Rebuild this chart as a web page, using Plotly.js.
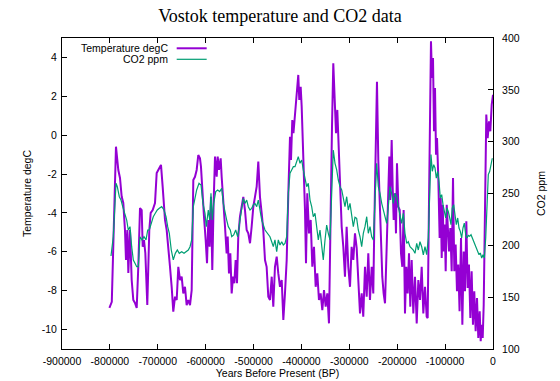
<!DOCTYPE html>
<html><head><meta charset="utf-8">
<script src="https://cdn.plot.ly/plotly-3.0.1.min.js"></script>
<style>html,body{margin:0;padding:0;background:#fff}#chart{width:560px;height:381px}</style>
</head><body><div id="chart"></div>
<script>
// Temperature (degC) vs years before present
const tempYears = [-801000,-796000,-787300,-782400,-778900,-775400,-772000,-768500,-766400,-763600,-761500,-758000,-754500,-751100,-747600,-744000,-740700,-737100,-733600,-731500,-728800,-726000,-721900,-717700,-714800,-710600,-705800,-702300,-698900,-695400,-693300,-689800,-684900,-681400,-678000,-674500,-671000,-667600,-664000,-660500,-657100,-653600,-650100,-646700,-643200,-639700,-636200,-632700,-629200,-625800,-622300,-618800,-615400,-611900,-609800,-607000,-603500,-600000,-597200,-594500,-591700,-588900,-586200,-583400,-580500,-577000,-574900,-572200,-568700,-566600,-563200,-559600,-556200,-554000,-551300,-548500,-545700,-542900,-540200,-537400,-534600,-531900,-528400,-524900,-521400,-517900,-514400,-511000,-507400,-504000,-500500,-497000,-493500,-490100,-486600,-483000,-479700,-476100,-472700,-469200,-465700,-462100,-458800,-455300,-451700,-448300,-444800,-441200,-437800,-434400,-430800,-427400,-423900,-421800,-419100,-416700,-413500,-409900,-406600,-404500,-401600,-399500,-396200,-392600,-390500,-387800,-384200,-380700,-377300,-373800,-370300,-366900,-363400,-359900,-356400,-352900,-349400,-346000,-342500,-339800,-336200,-333500,-330600,-327800,-325100,-322200,-319500,-316000,-312600,-309100,-305600,-302200,-298600,-295200,-291700,-288200,-284700,-281300,-277700,-274200,-270900,-267300,-263800,-260400,-256900,-253300,-250000,-247900,-245000,-242300,-239500,-236600,-233900,-231200,-228400,-225500,-222800,-220700,-218600,-216500,-214500,-211600,-209500,-207400,-204700,-202600,-200500,-197600,-194800,-192100,-189400,-186600,-183800,-181000,-178200,-175400,-172700,-169800,-166400,-162900,-159300,-155900,-152400,-148900,-145500,-142000,-138500,-136400,-133700,-131600,-129500,-127400,-125300,-123200,-121100,-119000,-116900,-114200,-111400,-109200,-107100,-105000,-102900,-100800,-98800,-96600,-94500,-91900,-89100,-86300,-83500,-80800,-78000,-75200,-72500,-69800,-66800,-64000,-61200,-58500,-55700,-52900,-50200,-47300,-44600,-41800,-39100,-36200,-33400,-30700,-27800,-25700,-23600,-21500,-19400,-16700,-14000,-11100,-8300,-5600,-2700,0];
const tempValues = [-8.88,-8.57,-0.59,-1.79,-2.2,-3.16,-3.49,-4.88,-6.42,-4.88,-7.09,-4.88,-7.45,-8.48,-8.63,-8.89,-6.77,-3.75,-3.85,-5.74,-5.4,-6.06,-8.74,-4.88,-4.0,-3.85,-3.49,-1.95,-1.79,-1.62,-1.53,-2.65,-4.36,-4.88,-6.06,-6.77,-7.8,-9.08,-8.31,-8.48,-6.77,-7.45,-7.28,-8.14,-7.8,-8.74,-8.48,-8.74,-7.97,-2.31,-2.14,-1.79,-1.02,-1.19,-1.62,-2.99,-4.19,-5.39,-6.59,-4.36,-5.74,-3.17,-6.94,-3.5,-1.1,-2.14,-1.1,-1.79,-1.19,-2.14,-3.17,-4.71,-6.08,-5.22,-7.11,-6.08,-8.14,-7.28,-7.62,-6.42,-7.62,-5.22,-4.19,-3.68,-3.17,-3.85,-4.88,-5.05,-5.56,-4.71,-3.68,-3.17,-2.65,-1.36,-3.17,-4.02,-4.88,-6.42,-6.77,-8.31,-8.48,-7.28,-8.82,-6.77,-6.25,-7.11,-7.8,-7.45,-9.51,-8.14,-6.42,-2.99,-0.08,-1.28,0.78,0.1,0.95,1.98,3.1,1.81,2.49,1.47,-0.93,-3.85,-6.59,-2.99,-5.05,-4.36,-6.77,-5.74,-7.8,-7.11,-8.48,-8.14,-9.0,-7.97,-8.82,-8.14,-9.68,-4.71,0.44,3.7,1.3,0.1,1.3,-0.93,-2.99,-4.71,-5.74,-7.28,-4.71,-6.77,-7.8,-5.74,-6.42,-5.05,-5.8,-7.28,-9.17,-8.14,-9.34,-6.77,-8.31,-6.08,-8.48,-6.77,-8.14,-4.71,-1.28,2.75,-1.28,-3.33,-5.56,-7.28,-8.14,-8.65,-6.42,-4.36,-2.65,-1.1,-3.33,-0.25,-2.65,-4.36,-2.99,-5.05,-1.45,-3.68,-3.85,-6.08,-6.77,-3.85,-9.17,-6.77,-8.14,-6.08,-8.82,-6.42,-9.17,-7.28,-9.68,-7.45,-8.48,-6.77,-9.17,-7.8,-9.34,-9.41,-3.58,1.57,4.83,2.94,3.97,0.2,2.43,-1.0,-0.15,-2.2,-5.29,-3.23,-6.32,-3.58,-5.98,-4.6,-7.0,-3.58,-4.6,-5.98,-4.78,-7.0,-2.2,-7.0,-5.63,-8.03,-6.66,-9.06,-5.29,-9.75,-5.98,-8.03,-4.43,-7.86,-6.66,-9.41,-7.0,-9.75,-8.03,-10.09,-8.38,-10.43,-9.06,-10.6,-9.75,-10.43,-8.72,-3.58,1.06,-0.15,0.71,0.2,1.57,2.08];

// CO2 (ppm) vs years before present
const co2Years = [-797700,-792900,-787200,-784500,-780300,-776800,-773200,-769100,-764900,-761600,-758000,-754500,-751100,-747600,-744000,-740700,-737100,-733000,-728800,-724600,-721000,-717700,-714200,-709400,-705200,-701000,-696800,-691800,-687000,-682800,-679300,-675900,-671800,-667600,-663400,-659200,-655100,-650000,-645200,-641100,-636300,-632700,-629200,-625800,-622300,-618800,-613900,-609700,-605600,-601400,-598700,-594500,-591600,-588900,-586200,-583200,-579000,-574900,-570700,-566500,-563200,-559600,-556100,-552700,-548600,-545600,-541500,-537300,-533100,-528300,-524800,-521400,-517900,-514300,-511000,-507400,-503900,-500500,-497000,-493400,-490100,-486500,-483000,-476100,-470500,-465700,-462100,-458800,-455300,-451700,-448300,-444800,-441200,-437900,-434400,-430800,-427400,-423900,-420400,-416900,-413500,-409900,-406600,-403000,-399500,-396100,-392600,-389000,-385700,-382100,-378600,-375300,-371700,-368200,-364800,-361300,-357700,-354400,-350800,-347300,-343900,-340400,-336800,-333500,-329900,-326400,-323000,-319500,-315900,-312600,-309100,-305500,-302200,-298600,-295100,-291700,-288200,-284700,-281300,-277700,-274200,-270800,-267300,-263700,-260400,-256800,-253300,-249900,-246400,-242900,-239500,-236000,-232400,-229100,-225500,-222000,-218600,-215100,-211600,-208200,-204600,-201100,-197800,-194200,-190700,-187300,-183800,-180200,-176900,-173300,-169800,-166400,-162900,-159300,-156000,-152500,-148900,-145500,-142000,-138500,-135100,-132200,-129500,-126700,-123800,-121100,-118400,-115500,-112800,-110000,-107100,-104400,-101700,-98800,-96100,-93400,-90400,-87700,-85000,-82100,-79400,-76600,-73700,-71000,-68300,-65400,-62700,-59900,-57000,-54300,-51600,-48700,-45900,-43200,-40300,-37600,-34900,-31900,-29200,-26500,-23600,-20900,-18200,-15200,-12500,-9800,-6900,-4200,-1500];
const co2Values = [189.7,208.3,259.8,256.6,246.9,243.7,237.3,230.9,224.4,214.8,218,198.7,185.9,182.7,179.4,179.4,208.3,205.2,208.3,205.2,214.8,214.8,221.2,227.6,230.9,234.1,235.7,237.3,234.1,227.6,218,211.6,195.5,185.9,192.3,195.5,192.3,193.9,192.3,193.9,195.5,198.7,205.2,237.3,246.9,253.4,259.8,258.2,240.5,230.9,218,234.1,224.4,250.2,224.4,240.5,251.8,253.4,251.8,255,240.5,230.9,224.4,218,214.8,208.3,210,214.8,208.3,224.4,234.1,245.3,240.5,243.7,237.3,234.1,235.7,239,240.5,237.3,243.7,234.1,224.4,214.8,211.6,208.3,203.5,198.7,205.2,193.9,205.2,200.3,203.5,200.3,201.9,208.3,250.2,269.5,272.7,275.9,275.9,280.7,285.5,279.1,282.3,272.7,263,256.6,259.8,243.7,237.3,227.6,230.9,214.8,205.2,214.8,195.5,185.9,205.2,219.6,211.6,205.2,250.2,292,279.1,272.7,263,256.6,253.4,243.7,237.3,246.9,234.1,240.5,230.9,218,227,226,214.8,208.3,198.7,211.6,218,227.6,211.6,218,208.3,205.2,243.7,279.1,256.6,250.2,240.5,234.1,227.6,221.2,237.3,256.6,250.2,240.5,250.2,246.9,237.3,227.6,221.2,230.9,211.6,201.9,203.5,198.7,197.1,195.5,192.3,201.9,195.5,203.5,198.7,190.7,198.7,191,207.1,264.9,287.5,271.4,277.8,274.6,264.9,271.4,261.7,245.7,248.9,239.2,232.8,226.4,236,232.8,226.4,219.9,236,239.2,229.6,219.9,226.4,216.7,213.5,207.1,216.7,221.5,210.3,207.1,209.6,208.7,210.3,207.1,203.9,202.3,197.4,194.2,191,192.6,187.8,191,187.8,207.1,245.7,268.2,271.4,277.8,284];

const xTickVals = [-900000,-800000,-700000,-600000,-500000,-400000,-300000,-200000,-100000,0];
const xTickText = ['-900000','-800000','-700000','-600000','-500000','-400000','-300000','-200000','-100000','0'];
const yTickVals = [-10,-8,-6,-4,-2,0,2,4];
const yTickText = ['-10','-8','-6','-4','-2','0','2','4'];
const y2TickVals = [100,150,200,250,300,350,400];
const y2TickText = ['100','150','200','250','300','350','400'];
const seriesNames = ['Temperature degC','CO2 ppm'];
const seriesColors = ['#9400d3','#009e73'];

const FONT = 'Liberation Sans, Arial, Helvetica, sans-serif';

const traces = [
  {x: tempYears, y: tempValues, type:'scatter', mode:'lines', name: seriesNames[0],
   line:{color: seriesColors[0], width:2}, yaxis:'y'},
  {x: co2Years, y: co2Values, type:'scatter', mode:'lines', name: seriesNames[1],
   line:{color: seriesColors[1], width:1.2}, yaxis:'y2'}
];

const axisCommon = {ticks:'inside', ticklen:5, tickcolor:'#000', tickwidth:1,
  showline:true, linecolor:'#000', linewidth:1, showgrid:false, zeroline:false,
  tickfont:{family:FONT, size:10.5, color:'#000'}};

const layout = {
  width:560, height:381,
  margin:{l:62, r:67, t:38, b:32, pad:0},
  paper_bgcolor:'#fff', plot_bgcolor:'#fff',
  showlegend:false,
  font:{family:FONT, size:10.5, color:'#000'},
  title:{text:'Vostok temperature and CO2 data', font:{family:'Liberation Serif, Times New Roman, serif', size:18, color:'#000'},
    x:0.5, xref:'container', xanchor:'center', y:0.958, yref:'container', yanchor:'middle'},
  xaxis: Object.assign({}, axisCommon, {range:[-900000,0], tickmode:'array', tickvals:xTickVals, ticktext:xTickText,
    mirror:'ticks', ticklabelstandoff:2,
    title:{text:'Years Before Present (BP)', font:{family:FONT, size:10.5, color:'#000'}, standoff:4}}),
  yaxis: Object.assign({}, axisCommon, {range:[-11,5], tickmode:'array', tickvals:yTickVals, ticktext:yTickText,
    ticklabelstandoff:2,
    title:{text:'Temperature degC', font:{family:FONT, size:10.5, color:'#000'}, standoff:8}}),
  yaxis2: Object.assign({}, axisCommon, {range:[100,400], tickmode:'array', tickvals:y2TickVals, ticktext:y2TickText,
    overlaying:'y', side:'right', ticklabelstandoff:6,
    title:{text:'CO2 ppm', font:{family:FONT, size:10.5, color:'#000'}, standoff:18}}),
  annotations:[
    {text: seriesNames[0], xref:'paper', yref:'paper', x:0.2506, y:0.9669, xanchor:'right', yanchor:'middle', showarrow:false, font:{family:FONT, size:10.5, color:'#000'}},
    {text: seriesNames[1], xref:'paper', yref:'paper', x:0.2506, y:0.9315, xanchor:'right', yanchor:'middle', showarrow:false, font:{family:FONT, size:10.5, color:'#000'}}
  ],
  shapes:[
    {type:'line', xref:'paper', yref:'paper', x0:0.2661, x1:0.3357, y0:0.9669, y1:0.9669, line:{color:seriesColors[0], width:2}},
    {type:'line', xref:'paper', yref:'paper', x0:0.2661, x1:0.3357, y0:0.9315, y1:0.9315, line:{color:seriesColors[1], width:1.2}}
  ]
};

Plotly.newPlot('chart', traces, layout, {displayModeBar:false, staticPlot:true});
</script>
</body></html>
